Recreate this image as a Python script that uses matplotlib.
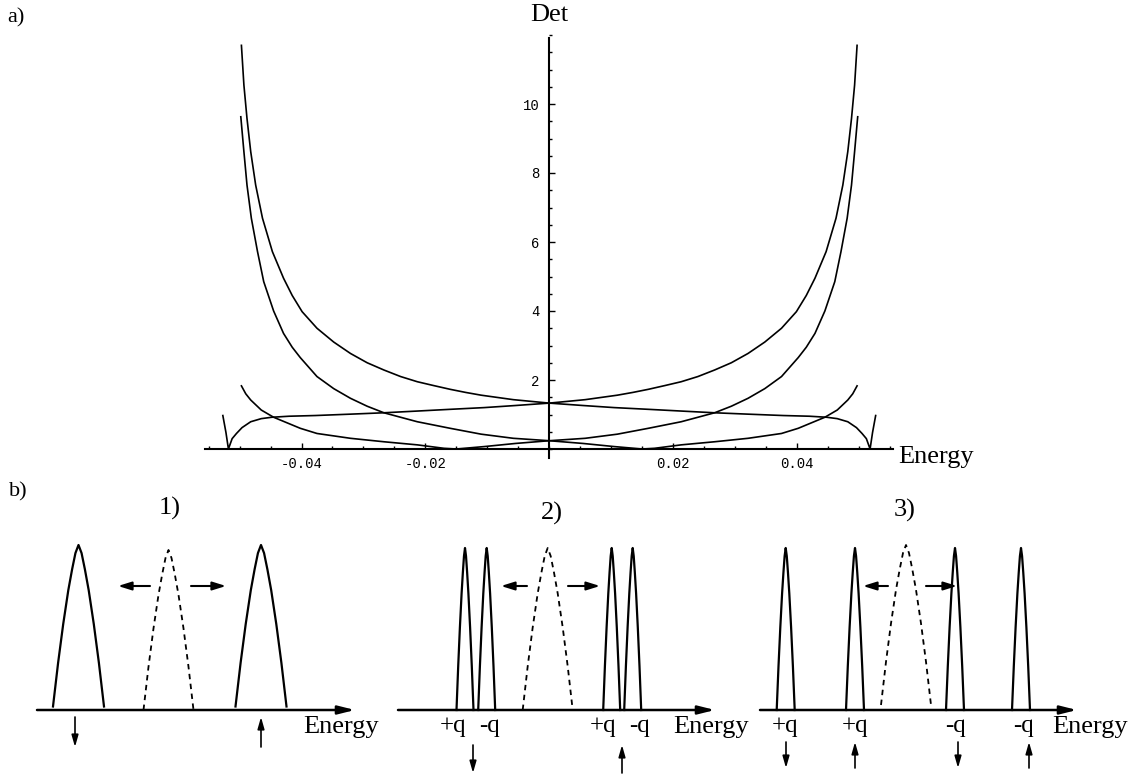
#-------------- Imports ---------------
import matplotlib
matplotlib.use('Agg')
from matplotlib import pyplot as plt
from matplotlib.ticker import FixedLocator, MultipleLocator

plt.rcParams['axes.unicode_minus'] = False
SERIF = 'Liberation Serif'
MONO = 'Liberation Mono'

#-------------- Data: a) determinant vs energy ---------------
# one branch of each mirror pair, the other branch is the same curve at -energy
energy_c1 = [-0.0497, -0.0493, -0.0488, -0.0482, -0.0474, -0.0463, -0.0447, -0.0429,
             -0.0415, -0.0399, -0.0375, -0.0348, -0.0321, -0.0294, -0.0267, -0.0240,
             -0.0213, -0.0187, -0.0160, -0.0135, -0.0110, -0.0058, 0.0, 0.0055, 0.0105,
             0.0160, 0.0213, 0.0267, 0.0321, 0.0378, 0.0420, 0.0448, 0.0465, 0.0482,
             0.0496, 0.0505, 0.0512, 0.0518, 0.0522, 0.0527]
det_c1 = [11.7, 10.55, 9.58, 8.62, 7.65, 6.69, 5.72, 4.95,
          4.45, 3.98, 3.5, 3.1, 2.77, 2.5, 2.29, 2.10,
          1.95, 1.84, 1.73, 1.64, 1.56, 1.43, 1.33, 1.26, 1.20,
          1.15, 1.10, 1.05, 1.01, 0.97, 0.95, 0.92, 0.88, 0.79,
          0.62, 0.45, 0.30, 0.0, 0.48, 0.97]

energy_c3 = [-0.0498, -0.0493, -0.0488, -0.0481, -0.0471, -0.0461, -0.0445, -0.0429,
             -0.0415, -0.0402, -0.0375, -0.0348, -0.0321, -0.0294, -0.0267, -0.0240,
             -0.0213, -0.0160, -0.0110, -0.0058, 0.0, 0.0055, 0.0105, 0.0150, 0.0170,
             0.0213, 0.0267, 0.0321, 0.0375, 0.0402, 0.0445, 0.0465, 0.0482, 0.0490,
             0.0497]
det_c3 = [9.63, 8.62, 7.65, 6.69, 5.72, 4.85, 4.0, 3.35,
          2.95, 2.65, 2.10, 1.75, 1.47, 1.24, 1.05, 0.92,
          0.79, 0.60, 0.43, 0.31, 0.24, 0.16, 0.07, 0.0, 0.02,
          0.12, 0.21, 0.31, 0.45, 0.60, 0.92, 1.13, 1.42, 1.60,
          1.83]

x_ticks = [-0.04, -0.02, 0.02, 0.04]
x_tick_labels = ['-0.04', '-0.02', '0.02', '0.04']
y_ticks = [2, 4, 6, 8, 10]
y_tick_labels = ['2', '4', '6', '8', '10']

#-------------- Data: b) schematic level pictures ---------------
panel_titles = ['1)', '2)', '3)']
title_x = [170, 552, 905]
title_y = [508, 513, 510]
axis_start = [37, 398, 760]
axis_end = [355, 715, 1077]
energy_label_x = [303, 673, 1052]

# generic peak profile (relative width / relative height)
profile_x = [-1, -0.8, -0.6, -0.4, -0.25, -0.12, 0, 0.12, 0.25, 0.4, 0.6, 0.8, 1]
profile_y = [0, 0.27, 0.51, 0.72, 0.85, 0.95, 1, 0.95, 0.85, 0.72, 0.51, 0.27, 0]

solid_centres = [[78.5, 261], [465, 486.7, 611.7, 632.7], [785.7, 855, 955, 1021]]
solid_halfwidth = [25.5, 8.5, 9]
solid_top = [545, 548, 548]
solid_base = [706.5, 710, 710]

dashed_centre = [168.5, 547.7, 906]
dashed_top = [550, 548, 545]
dashed_base = [710, 710, 705]

shift_tails = [[150, 191], [527, 568], [888, 926]]
shift_heads = [[118, 226], [501, 600], [863, 957]]

q_labels = [[], ['+q', '-q', '+q', '-q'], ['+q', '+q', '-q', '-q']]
q_label_x = [[], [453, 490, 603, 639], [785, 855, 956, 1023]]

spin_x = [[75, 261], [473, 622], [786, 855, 958, 1029]]
spin_up = [[False, True], [False, True], [False, True, False, True]]
spin_top = [717, 745, 742]
spin_bottom = [747, 773, 768]

AXIS_Y = 710
SHIFT_Y = 586

#-------------- Figure ---------------
fig = plt.figure(figsize=(11.35, 7.75), dpi=100)

# top panel, placed so that the axes cross where the original does
ax = fig.add_axes([205.5 / 1135, (775 - 459.35) / 775, 687.5 / 1135, 424.35 / 775])
ax.set_xlim(-0.0555, 0.0555)
ax.set_ylim(-0.3, 12.0)
ax.patch.set_alpha(0)

for e, d in [(energy_c1, det_c1), (energy_c3, det_c3)]:
    ax.plot(e, d, color='black', linewidth=1.2)
    ax.plot([-v for v in e], d, color='black', linewidth=1.2)

ax.spines['top'].set_visible(False)
ax.spines['right'].set_visible(False)
ax.spines['left'].set_position(('data', 0))
ax.spines['bottom'].set_position(('data', 0))
ax.spines['left'].set_bounds(-0.25, 11.9)
ax.spines['left'].set_linewidth(1.5)
ax.spines['bottom'].set_linewidth(1.5)

ax.xaxis.set_major_locator(FixedLocator(x_ticks))
ax.set_xticklabels(x_tick_labels, fontfamily=MONO, fontsize=10)
ax.xaxis.set_minor_locator(MultipleLocator(0.005))
ax.yaxis.set_major_locator(FixedLocator(y_ticks))
ax.set_yticklabels(y_tick_labels, fontfamily=MONO, fontsize=10)
ax.yaxis.set_minor_locator(MultipleLocator(0.5))
ax.tick_params(which='both', direction='in', width=1)
ax.tick_params(which='major', length=4)
ax.tick_params(which='minor', length=2)
ax.tick_params(axis='x', pad=6)
ax.tick_params(axis='y', pad=7)

ax.text(0, 12.58, 'Det', fontfamily=SERIF, fontsize=19, ha='center', va='center')
ax.text(0.0563, -0.22, 'Energy', fontfamily=SERIF, fontsize=19, ha='left', va='center')

# overlay in pixel units for the bottom schematic and the panel letters
ov = fig.add_axes([0, 0, 1, 1])
ov.set_xlim(0, 1135)
ov.set_ylim(775, 0)
ov.axis('off')
ov.patch.set_alpha(0)

ov.text(16, 18, 'a)', fontfamily=SERIF, fontsize=16, ha='center', va='center')
ov.text(18, 492, 'b)', fontfamily=SERIF, fontsize=16, ha='center', va='center')

arrow_style = dict(arrowstyle='-|>,head_length=0.8,head_width=0.25', color='black',
                   linewidth=1.5, shrinkA=0, shrinkB=0)
spin_style = dict(arrowstyle='-|>,head_length=0.7,head_width=0.2', color='black',
                  linewidth=1.2, shrinkA=0, shrinkB=0)

for i in range(3):
    ov.text(title_x[i], title_y[i], panel_titles[i], fontfamily=SERIF, fontsize=19,
            ha='center', va='center')
    # energy axis
    ov.annotate('', xy=(axis_end[i], AXIS_Y), xytext=(axis_start[i], AXIS_Y),
                arrowprops=dict(arrowstyle='-|>,head_length=1.0,head_width=0.25',
                                color='black', linewidth=1.8, shrinkA=0, shrinkB=0))
    ov.text(energy_label_x[i], 727, 'Energy', fontfamily=SERIF, fontsize=19,
            ha='left', va='center')

    # solid peaks
    h = solid_base[i] - solid_top[i]
    for c in solid_centres[i]:
        ov.plot([c + px * solid_halfwidth[i] for px in profile_x],
                [solid_base[i] - py * h for py in profile_y],
                color='black', linewidth=1.6)

    # dashed peak (unsplit level)
    hd = dashed_base[i] - dashed_top[i]
    ov.plot([dashed_centre[i] + px * 25 for px in profile_x],
            [dashed_base[i] - py * hd for py in profile_y],
            color='black', linewidth=1.3, linestyle=(0, (3, 2.5)))

    # shift arrows
    for t, hx in zip(shift_tails[i], shift_heads[i]):
        ov.annotate('', xy=(hx, SHIFT_Y), xytext=(t, SHIFT_Y), arrowprops=arrow_style)

    # +q / -q labels
    for lab, lx in zip(q_labels[i], q_label_x[i]):
        ov.text(lx, 726, lab, fontfamily=SERIF, fontsize=18, ha='center', va='center')

    # spin arrows
    for sx, up in zip(spin_x[i], spin_up[i]):
        if up:
            ov.annotate('', xy=(sx, spin_top[i]), xytext=(sx, spin_bottom[i]),
                        arrowprops=spin_style)
        else:
            ov.annotate('', xy=(sx, spin_bottom[i]), xytext=(sx, spin_top[i]),
                        arrowprops=spin_style)

fig.savefig('out.png', dpi=100)
